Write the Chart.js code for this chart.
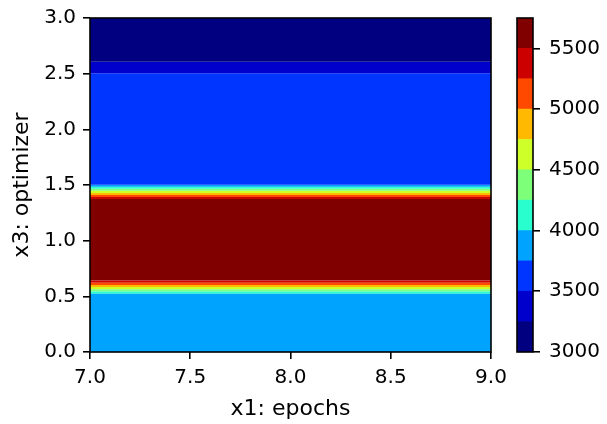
<!DOCTYPE html>
<html>
<head>
<meta charset="utf-8">
<script src="https://cdn.jsdelivr.net/npm/chart.js@4.4.1/dist/chart.umd.min.js"></script>
<style>
  body { margin: 0; background: #fff; }
  #wrap { position: relative; width: 607px; height: 424px; }
  #main { position: absolute; left: 0; top: 0; }
  #cbar { position: absolute; left: 500px; top: 0; }
</style>
</head>
<body>
<div id="wrap">
  <canvas id="main" width="525" height="424"></canvas>
  <canvas id="cbar" width="107" height="424"></canvas>
</div>
<script>
// grid of the surface: z is constant along epochs, changes with optimizer
const epochs = [7, 9];
const optimizerY = [0, 0.514, 0.660, 1.357, 1.514, 2.461, 2.671, 3.0];
const profileZ = [3880, 3880, 5720, 5720, 3600, 3600, 3100, 3100];

// contour levels and the jet colours of each filled band
const levels = [3000, 3250, 3500, 3750, 4000, 4250, 4500, 4750, 5000, 5250, 5500, 5750];
const bandColors = ["#000080", "#0000cd", "#0034ff", "#00a4ff", "#29ffce", "#7dff7a",
                    "#ceff29", "#ffb900", "#ff4800", "#cd0000", "#800000"];

const xTicks = [7.0, 7.5, 8.0, 8.5, 9.0];
const yTicks = [0.0, 0.5, 1.0, 1.5, 2.0, 2.5, 3.0];
const cbarTicks = [3000, 3500, 4000, 4500, 5000, 5500];

Chart.defaults.font.family = "DejaVu Sans";
Chart.defaults.font.size = 20;
Chart.defaults.color = "#000";

// y ranges where lo <= z < hi along the piecewise-linear profile
function bandIntervals(lo, hi) {
  const out = [];
  for (let i = 0; i < optimizerY.length - 1; i++) {
    const y0 = optimizerY[i], y1 = optimizerY[i + 1];
    const z0 = profileZ[i], z1 = profileZ[i + 1];
    let a, b;
    if (z0 === z1) {
      if (z0 < lo || z0 >= hi) continue;
      a = y0; b = y1;
    } else {
      let t1 = (lo - z0) / (z1 - z0);
      let t2 = (hi - z0) / (z1 - z0);
      if (t1 > t2) [t1, t2] = [t2, t1];
      t1 = Math.max(0, t1);
      t2 = Math.min(1, t2);
      if (t1 >= t2) continue;
      a = y0 + t1 * (y1 - y0);
      b = y0 + t2 * (y1 - y0);
    }
    const last = out[out.length - 1];
    if (last && Math.abs(last[1] - a) < 1e-9) last[1] = b;
    else out.push([a, b]);
  }
  return out;
}

const datasets = [];
for (let k = 0; k < bandColors.length; k++) {
  bandIntervals(levels[k], levels[k + 1]).forEach(([a, b]) => {
    datasets.push({
      data: epochs.map(x => ({ x: x, y: a })),
      borderColor: "transparent", borderWidth: 0, pointRadius: 0, fill: false
    });
    datasets.push({
      data: epochs.map(x => ({ x: x, y: b })),
      borderColor: "transparent", borderWidth: 0, pointRadius: 0,
      fill: "-1", backgroundColor: bandColors[k]
    });
  });
}

const frame = {
  id: "frame",
  afterDraw(chart) {
    const { ctx, chartArea: c } = chart;
    ctx.save();
    ctx.strokeStyle = "#000";
    ctx.lineWidth = 1.6;
    ctx.strokeRect(c.left, c.top, c.right - c.left, c.bottom - c.top);
    ctx.restore();
  }
};

const tickGrid = { drawOnChartArea: false, drawTicks: true, tickLength: 7, color: "#000", lineWidth: 1.6 };

new Chart(document.getElementById("main"), {
  type: "line",
  data: { datasets: datasets },
  plugins: [frame],
  options: {
    responsive: false,
    animation: false,
    layout: { padding: { left: 0, top: 18, right: 34, bottom: 0 } },
    plugins: { legend: { display: false }, tooltip: { enabled: false } },
    scales: {
      x: {
        type: "linear", min: 7, max: 9,
        afterBuildTicks: s => { s.ticks = xTicks.map(v => ({ value: v })); },
        afterFit: s => { s.height = 72; s.paddingLeft = 0; s.paddingRight = 0; },
        ticks: { callback: v => v.toFixed(1), padding: 7, maxRotation: 0 },
        grid: tickGrid,
        border: { display: false },
        title: { display: true, text: "x1: epochs", font: { size: 22 }, padding: { top: 0, bottom: 2 } }
      },
      y: {
        type: "linear", min: 0, max: 3,
        afterBuildTicks: s => { s.ticks = yTicks.map(v => ({ value: v })); },
        afterFit: s => { s.width = 90; s.paddingTop = 0; s.paddingBottom = 0; },
        ticks: { callback: v => v.toFixed(1), padding: 7 },
        grid: tickGrid,
        border: { display: false },
        title: { display: true, text: "x3: optimizer", font: { size: 22 }, padding: { top: 9, bottom: 0 } }
      }
    }
  }
});

new Chart(document.getElementById("cbar"), {
  type: "bar",
  data: {
    labels: ["z"],
    datasets: bandColors.map((c, k) => ({
      data: [[levels[k], levels[k + 1]]],
      backgroundColor: c, borderWidth: 0,
      barPercentage: 1, categoryPercentage: 1, grouped: false
    }))
  },
  plugins: [frame],
  options: {
    responsive: false,
    animation: false,
    layout: { padding: { left: 17, top: 18, right: 0, bottom: 72 } },
    plugins: { legend: { display: false }, tooltip: { enabled: false } },
    scales: {
      x: { display: false },
      y: {
        position: "right", min: levels[0], max: levels[levels.length - 1],
        afterBuildTicks: s => { s.ticks = cbarTicks.map(v => ({ value: v })); },
        afterFit: s => { s.width = 74; s.paddingTop = 0; s.paddingBottom = 0; },
        ticks: { padding: 9, callback: v => String(v) },
        grid: tickGrid,
        border: { display: false }
      }
    }
  }
});
</script>
</body>
</html>
